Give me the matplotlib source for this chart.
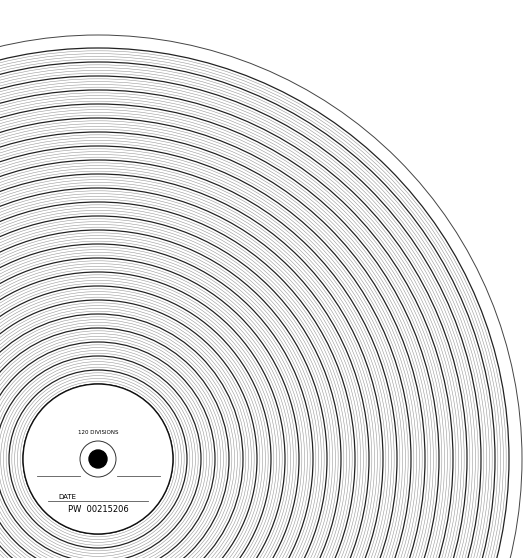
import matplotlib.pyplot as plt
from matplotlib.patches import Circle

# chart paper geometry (pixel units, centre of the disc)
center = (98, 459)
outer_edge = 424
inner_disc = 75
major_radii = [75, 89, 103, 117, 131, 145, 159, 173, 187, 201, 215, 229, 243,
               257, 271, 285, 299, 313, 327, 341, 355, 369, 383, 397, 411]
minor_per_major = 5
hub_radius = 18
hole_radius = 9

label_divisions = '120 DIVISIONS'
label_date = 'DATE'
label_part = 'PW  00215206'

fig = plt.figure(figsize=(5.24, 5.58), dpi=100)
ax = fig.add_axes([0, 0, 1, 1])
ax.set_xlim(0, 524)
ax.set_ylim(558, 0)
ax.set_aspect('equal')
ax.axis('off')

# outer paper edge
ax.add_patch(Circle(center, outer_edge, fill=False, lw=0.7, color='#444444'))

# rings: bold every 5th division, light in between
for i, r in enumerate(major_radii):
    ax.add_patch(Circle(center, r, fill=False, lw=0.9, color='#222222'))
    if i + 1 < len(major_radii):
        step = (major_radii[i + 1] - r) / minor_per_major
        for k in range(1, minor_per_major):
            ax.add_patch(Circle(center, r + k * step, fill=False, lw=0.4, color='#999999'))

# white centre
ax.add_patch(Circle(center, inner_disc, facecolor='white', edgecolor='#111111', lw=1.0, zorder=3))
ax.add_patch(Circle(center, hub_radius, fill=False, lw=0.7, color='#333333', zorder=4))
ax.add_patch(Circle(center, hole_radius, color='black', zorder=4))

cx, cy = center
ax.text(cx, cy - 27, label_divisions, ha='center', va='center', fontsize=4, zorder=5)
ax.plot([cx - 61, cx - 18], [cy + 17, cy + 17], lw=0.6, color='#555555', zorder=5)
ax.plot([cx + 19, cx + 62], [cy + 17, cy + 17], lw=0.6, color='#555555', zorder=5)
ax.text(cx - 40, cy + 38, label_date, ha='left', va='center', fontsize=5, zorder=5)
ax.plot([cx - 50, cx + 50], [cy + 42, cy + 42], lw=0.6, color='#555555', zorder=5)
ax.text(cx, cy + 51, label_part, ha='center', va='center', fontsize=6, zorder=5)

fig.savefig('out.png', dpi=100, facecolor='white')
